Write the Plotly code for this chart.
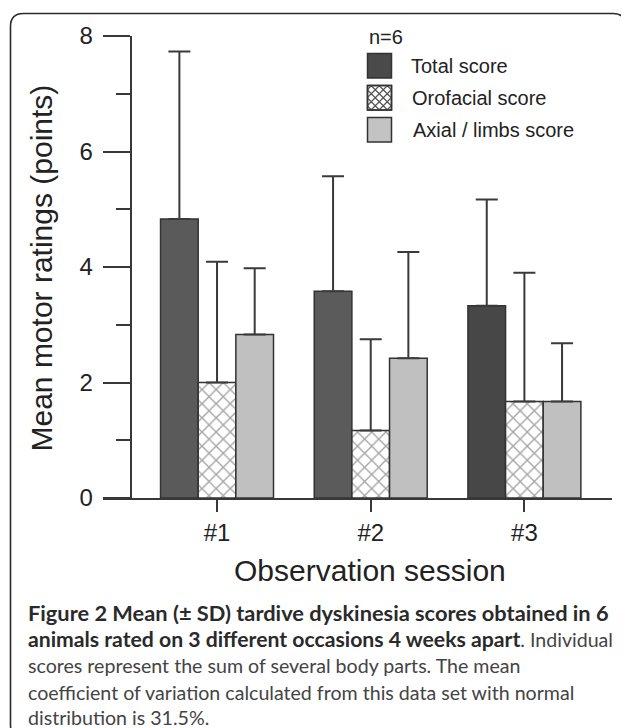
import plotly.graph_objects as go

# ---------------- data ----------------
sessions = ["#1", "#2", "#3"]
session_pos = [0, 1, 2]
total_mean = [4.83, 3.58, 3.33]
total_sd = [2.90, 1.99, 1.84]
oro_mean = [2.00, 1.17, 1.67]
oro_sd = [2.09, 1.58, 2.23]
axial_mean = [2.83, 2.42, 1.67]
axial_sd = [1.15, 1.84, 1.01]
series_names = ["Total score", "Orofacial score", "Axial / limbs score"]
y_ticks = [0, 2, 4, 6, 8]

# ---------------- layout geometry ----------------
# page body has an 8px margin: figure origin sits at window (8, 8)
OFF = 8
W_FIG, H_FIG = 621, 720
PL, PR, PT, PB = 103, 612, 36, 498          # plot area in window pixels
ML, MT = PL - OFF, PT - OFF
PW, PH = PR - PL, PB - PT
MR = W_FIG - ML - PW
MB = H_FIG - MT - PH


def px(x):  # window pixel -> paper x
    return (x - PL) / PW


def py(y):  # window pixel -> paper y
    return (PB - y) / PH


AX = "#383838"
FONT = "Arial, Liberation Sans, sans-serif"

err_common = dict(type="data", symmetric=False, color="#3a3a3a",
                  thickness=2, width=11)

fig = go.Figure()
fig.add_trace(go.Bar(
    x=session_pos, y=total_mean, name=series_names[0], showlegend=False,
    marker=dict(color=["#5a5a5a", "#5b5b5b", "#474747"],
                line=dict(color="#333333", width=1.5)),
    error_y=dict(array=total_sd, arrayminus=[0, 0, 0], **err_common),
))
fig.add_trace(go.Bar(
    x=session_pos, y=oro_mean, name=series_names[1], showlegend=False,
    marker=dict(color="white", line=dict(color="#333333", width=1.5),
                pattern=dict(shape="x", size=10, solidity=0.25,
                             fgcolor="#4a4a4a", bgcolor="white")),
    error_y=dict(array=oro_sd, arrayminus=[0, 0, 0], **err_common),
))
fig.add_trace(go.Bar(
    x=session_pos, y=axial_mean, name=series_names[2], showlegend=False,
    marker=dict(color="#c0c0c0", line=dict(color="#333333", width=1.5)),
    error_y=dict(array=axial_sd, arrayminus=[0, 0, 0], **err_common),
))

shapes = []
annotations = []

# ---- outer rounded frame ----
x0f, y0f, x1f, y1f, r = 10.5, 13.5, 626.0, 738.0, 13
frame_path = (
    f"M {px(x0f)},{py(y1f - r)} L {px(x0f)},{py(y0f + r)} "
    f"Q {px(x0f)},{py(y0f)} {px(x0f + r)},{py(y0f)} "
    f"L {px(x1f - r)},{py(y0f)} "
    f"Q {px(x1f)},{py(y0f)} {px(x1f)},{py(y0f + r)} "
    f"L {px(x1f)},{py(y1f - r)} "
    f"Q {px(x1f)},{py(y1f)} {px(x1f - r)},{py(y1f)} "
    f"L {px(x0f + r)},{py(y1f)} "
    f"Q {px(x0f)},{py(y1f)} {px(x0f)},{py(y1f - r)} Z"
)
shapes.append(dict(type="path", xref="paper", yref="paper", path=frame_path,
                   line=dict(color="#2a2a2a", width=1.6), layer="below"))

# ---- custom legend ----
annotations.append(dict(xref="paper", yref="paper", x=px(367), y=py(37),
                        xanchor="left", yanchor="middle", showarrow=False,
                        text="n=6", font=dict(family=FONT, size=20, color="#222")))
sw_x0, sw_x1 = 367.5, 391.5
sw_rows = [(53.5, 78.0), (85.5, 110.0), (117.5, 142.0)]
sw_fill = ["#4a4a4a", "white", "#c3c3c3"]
txt_x = [409, 410, 411]
for i, (ya, yb) in enumerate(sw_rows):
    shapes.append(dict(type="rect", xref="paper", yref="paper",
                       x0=px(sw_x0), x1=px(sw_x1), y0=py(yb), y1=py(ya),
                       fillcolor=sw_fill[i], line=dict(color="#333", width=1.5)))
    annotations.append(dict(xref="paper", yref="paper", x=px(txt_x[i]),
                            y=py((ya + yb) / 2), xanchor="left", yanchor="middle",
                            showarrow=False, text=series_names[i],
                            font=dict(family=FONT, size=20, color="#222")))

# crosshatch inside the orofacial swatch
ya, yb = sw_rows[1]
wsw, hsw = sw_x1 - sw_x0, yb - ya
step = 8.0
segs = []
c = -hsw + step / 2
while c < wsw:
    xa, ya_ = max(0, c), max(0, -c)
    xb, yb_ = min(wsw, c + hsw), min(hsw, wsw - c)
    if xb > xa:
        segs.append(((xa, ya_), (xb, yb_)))
    c += step
c = step / 2
while c < wsw + hsw:
    xa = max(0, c - hsw); ya_ = c - xa
    xb = min(wsw, c); yb_ = c - xb
    if xb > xa:
        segs.append(((xa, ya_), (xb, yb_)))
    c += step
hp = ""
for (a, b) in segs:
    hp += (f"M {px(sw_x0 + a[0])},{py(ya + a[1])} "
           f"L {px(sw_x0 + b[0])},{py(ya + b[1])} ")
shapes.append(dict(type="path", xref="paper", yref="paper", path=hp,
                   line=dict(color="#555", width=1.2)))
shapes.append(dict(type="rect", xref="paper", yref="paper",
                   x0=px(sw_x0), x1=px(sw_x1), y0=py(yb), y1=py(ya),
                   fillcolor="rgba(0,0,0,0)", line=dict(color="#333", width=1.5)))

# ---- axis titles ----
annotations.append(dict(xref="paper", yref="paper", x=px(41), y=py(268.5),
                        xanchor="center", yanchor="middle", showarrow=False,
                        textangle=-90, text="Mean motor ratings (points)",
                        font=dict(family=FONT, size=30, color="#222")))
annotations.append(dict(xref="paper", yref="paper", x=px(370), y=py(570),
                        xanchor="center", yanchor="middle", showarrow=False,
                        text="Observation session",
                        font=dict(family=FONT, size=30, color="#222")))

# ---- caption ----
CAP_FONT = "Lato, Open Sans, sans-serif"
REG_SIZE = 19.6


def bold(t, size):
    return f'<span style="font-size:{size}px;color:#2a2a2a"><b>{t}</b></span>'


caption_lines = [
    bold("Figure 2 Mean (± SD) tardive dyskinesia scores obtained in 6", 21.8),
    bold("animals rated on 3 different occasions 4 weeks apart", 21.2) + ". Individual",
    "scores represent the sum of several body parts. The mean",
    "coefficient of variation calculated from this data set with normal",
    "distribution is 31.5%.",
]
cap_y = [612.5, 639, 665.5, 692, 717.5]
for t, yy in zip(caption_lines, cap_y):
    annotations.append(dict(
        xref="paper", yref="paper", x=px(26), y=py(yy),
        xanchor="left", yanchor="middle", showarrow=False, text=t,
        font=dict(family=CAP_FONT, size=REG_SIZE, color="#444")))

fig.update_layout(
    width=W_FIG, height=H_FIG,
    margin=dict(l=ML, r=MR, t=MT, b=MB, pad=0),
    paper_bgcolor="white", plot_bgcolor="white",
    barmode="group", bargap=0.265, bargroupgap=0,
    showlegend=False,
    shapes=shapes, annotations=annotations,
    font=dict(family=FONT, color="#222"),
    xaxis=dict(range=[-0.742, 2.570], tickvals=session_pos, ticktext=sessions,
               showline=True, linecolor=AX, linewidth=2, ticks="outside",
               ticklen=12, tickwidth=2, tickcolor=AX, showgrid=False,
               zeroline=False, tickfont=dict(family=FONT, size=24, color="#222"),
               ticklabelstandoff=0),
    yaxis=dict(range=[0, 8], tickvals=y_ticks, anchor="free",
               position=(130.7 - PL) / PW, showline=True, linecolor=AX,
               linewidth=2, ticks="outside", ticklen=27, tickwidth=2,
               tickcolor=AX, showgrid=False, zeroline=False,
               tickfont=dict(family=FONT, size=24, color="#222"),
               ticklabelstandoff=5,
               minor=dict(dtick=1, tick0=0, ticks="outside", ticklen=14,
                          tickwidth=2, tickcolor=AX, showgrid=False)),
)

fig.write_html("out.html")
